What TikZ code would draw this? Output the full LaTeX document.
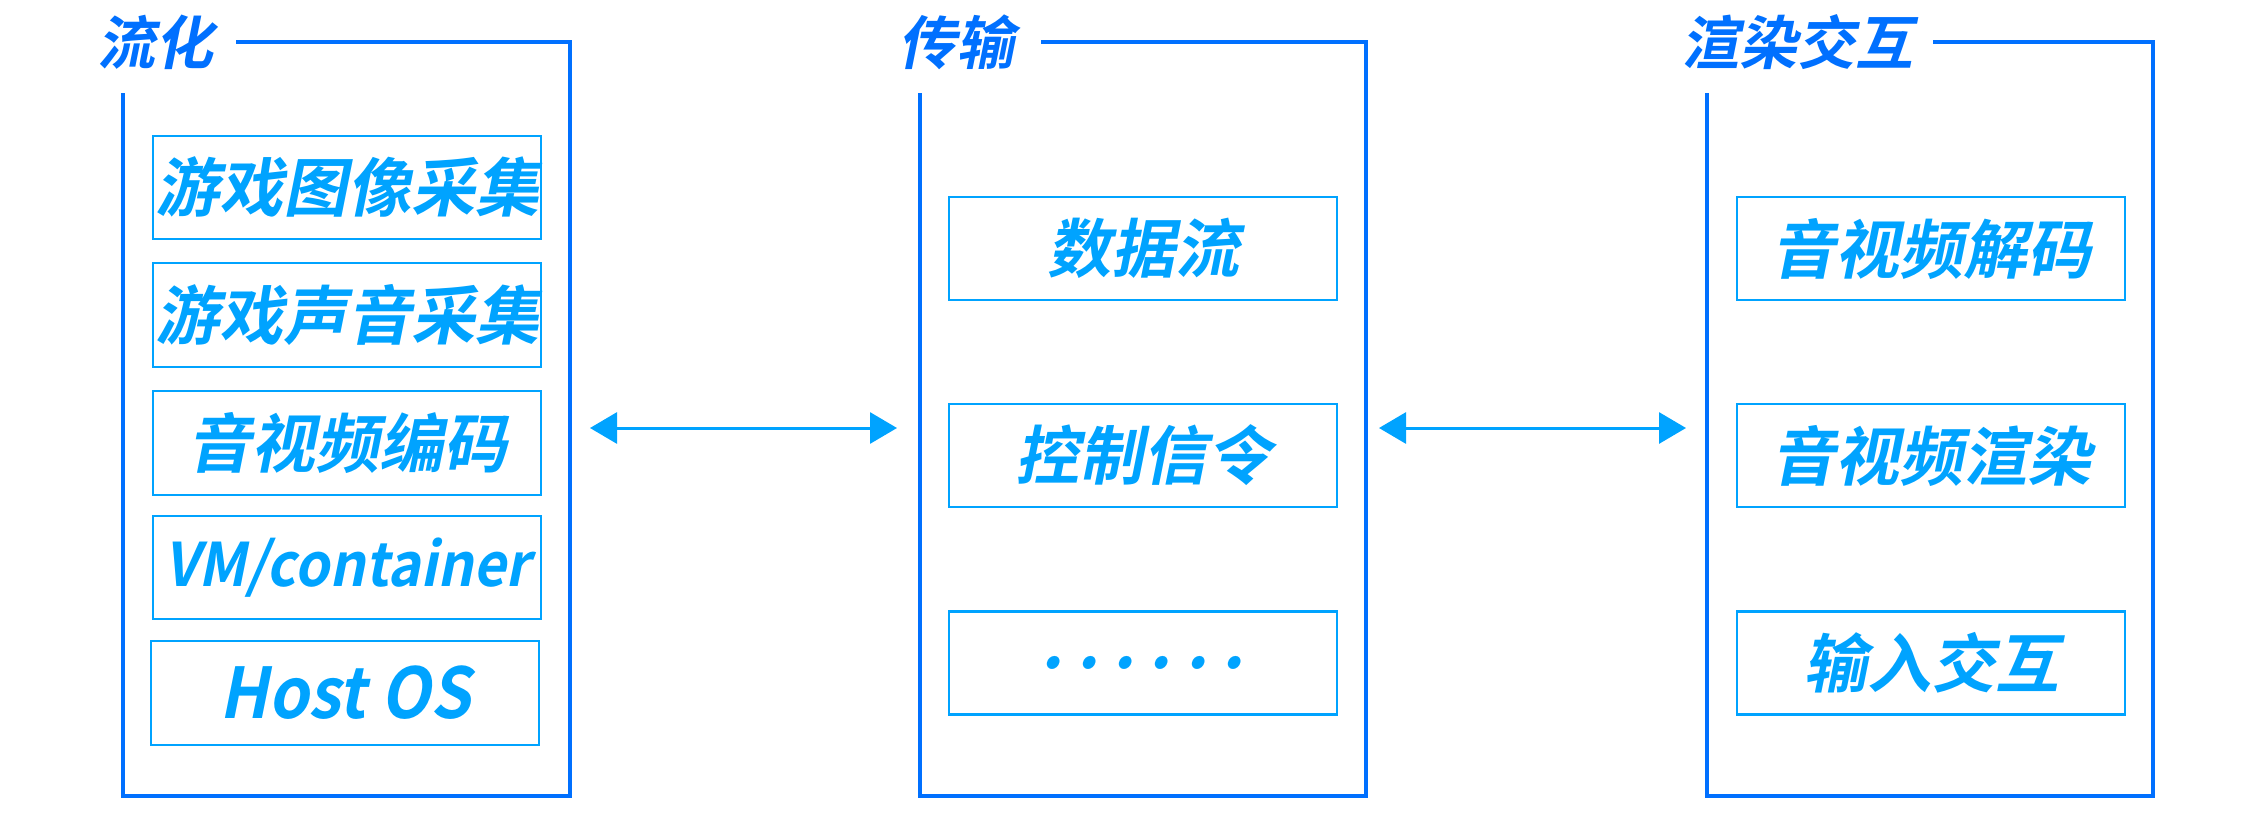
\documentclass[tikz,border=0pt]{standalone}
\usepackage{fontspec}
\usetikzlibrary{arrows.meta,calc}
\newfontfamily\cjkb[FakeSlant=0.2]{Noto Sans CJK SC Bold}
\definecolor{frameblue}{RGB}{0,112,255}
\definecolor{boxblue}{RGB}{0,163,255}
\tikzset{
  framebox/.style={draw=none,inner sep=0pt,outer sep=0pt,rectangle},
  frameline/.style={draw=frameblue,line width=3.5pt,line join=miter},
  itembox/.style={draw=boxblue,line width=2.2pt,inner sep=0pt,outer sep=0pt,
    minimum width=388pt,minimum height=103pt,text=boxblue,
    font=\cjkb\fontsize{64}{70}\selectfont},
  titletext/.style={text=frameblue,inner sep=0pt,outer sep=0pt,anchor=base west,
    font=\cjkb\fontsize{58}{64}\selectfont},
  biarrow/.style={draw=boxblue,line width=3pt,
    {Triangle[length=27pt,width=31pt]}-{Triangle[length=27pt,width=31pt]}},
}
\newcommand{\dotgap}{\hspace{14pt}}
\begin{document}
\begin{tikzpicture}[x=1pt,y=-1pt]
\useasboundingbox (0,0) rectangle (2251,816);
% frames
\node[framebox,minimum width=447pt,minimum height=754pt] (F1) at (346.5,419) {};
\node[framebox,minimum width=446pt,minimum height=754pt] (F2) at (1143,419) {};
\node[framebox,minimum width=446pt,minimum height=754pt] (F3) at (1930,419) {};
\draw[frameline] ([yshift=-51pt]F1.north west) |- (F1.south east) |- ([xshift=113pt]F1.north west);
\draw[frameline] ([yshift=-51pt]F2.north west) |- (F2.south east) |- ([xshift=121pt]F2.north west);
\draw[frameline] ([yshift=-51pt]F3.north west) |- (F3.south east) |- ([xshift=226pt]F3.north west);
% titles
\node[titletext] (T1) at (97,65) {流化};
\node[titletext] (T2) at (898,65) {传输};
\node[titletext] (T3) at (1681,65) {渲染交互};
% left items
\node[itembox] (a1) at (347,187.5) {游戏图像采集};
\node[itembox,minimum height=104pt] (a2) at (347,315) {游戏声音采集};
\node[itembox,minimum height=104pt] (a3) at (347,443) {音视频编码};
\node[itembox] (a4) at (347,567.5) {\fontsize{60}{66}\selectfont\addfontfeature{FakeStretch=0.93}VM/container};
\node[itembox,minimum height=104pt] (a5) at (345,693) {\fontsize{70}{76}\selectfont\addfontfeature{FakeStretch=0.92}Host OS};
% middle items
\node[itembox] (b1) at (1143,248.5) {数据流};
\node[itembox] (b2) at (1143,455.5) {控制信令};
\node[itembox] (b3) at (1143,663) {\fontsize{68}{68}\selectfont .\dotgap.\dotgap.\dotgap.\dotgap.\dotgap.};
% right items
\node[itembox] (c1) at (1931,248.5) {音视频解码};
\node[itembox] (c2) at (1931,455.5) {音视频渲染};
\node[itembox] (c3) at (1931,663) {输入交互};
% arrows
\draw[biarrow] ([xshift=20pt,yshift=-9pt]F1.east) -- ([xshift=-23pt,yshift=-9pt]F2.west);
\draw[biarrow] ([xshift=13pt,yshift=-9pt]F2.east) -- ([xshift=-21pt,yshift=-9pt]F3.west);
\end{tikzpicture}
\end{document}
